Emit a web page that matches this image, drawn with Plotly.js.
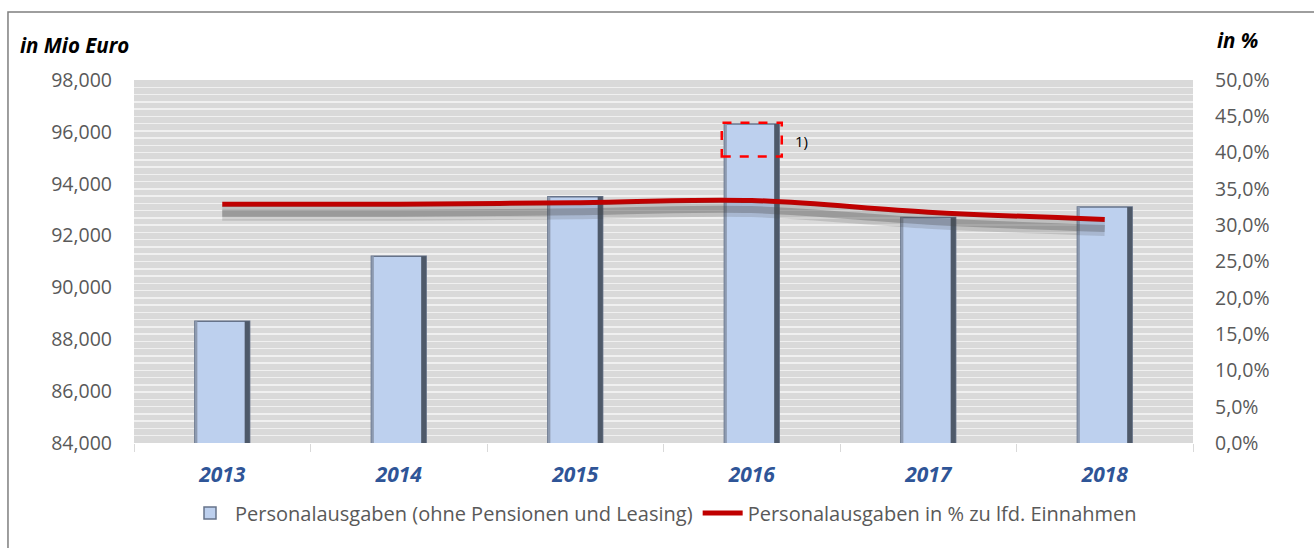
<!DOCTYPE html>
<html>
<head>
<meta charset="utf-8">
<script src="https://cdn.plot.ly/plotly-3.0.1.min.js"></script>
<style>html,body{margin:0;padding:0;background:#fff;}#chart{width:1314px;height:548px;}</style>
</head>
<body>
<div id="chart"></div>
<script>
// ---- data ----
const years = ['2013', '2014', '2015', '2016', '2017', '2018'];
const personalausgaben = [88700, 91200, 93500, 96300, 92700, 93100];      // Mio Euro
const anteilEinnahmen = [32.9, 32.9, 33.1, 33.4, 31.8, 30.8];             // in %
const leftTickVals = [84000, 86000, 88000, 90000, 92000, 94000, 96000, 98000];
const rightTickVals = [0, 5, 10, 15, 20, 25, 30, 35, 40, 45, 50];
const rightTickText = ['0,0%', '5,0%', '10,0%', '15,0%', '20,0%', '25,0%', '30,0%', '35,0%', '40,0%', '45,0%', '50,0%'];
const barName = 'Personalausgaben (ohne Pensionen und Leasing)';
const lineName = 'Personalausgaben in % zu lfd. Einnahmen';

const FONT = 'Open Sans, Noto Sans, sans-serif';
const GREY = '#595959';

const traces = [
  {
    type: 'bar', x: years, y: personalausgaben, name: barName,
    width: 0.31,
    marker: { color: '#bdd0ee', line: { color: '#66738a', width: 1.5 } },
    yaxis: 'y', hoverinfo: 'skip'
  },
  // bevel edges of the bars
  {
    type: 'bar', x: years, y: personalausgaben, width: 0.028, offset: 0.127,
    marker: { color: '#4e5969', line: { width: 0 } },
    yaxis: 'y', showlegend: false, hoverinfo: 'skip'
  },
  {
    type: 'bar', x: years, y: personalausgaben, width: 0.014, offset: -0.155,
    marker: { color: '#8d9ab0', line: { width: 0 } },
    yaxis: 'y', showlegend: false, hoverinfo: 'skip'
  },
  // soft shadow of the line (same data on a shifted axis)
  {
    type: 'scatter', mode: 'lines', x: years, y: anteilEinnahmen, yaxis: 'y3',
    line: { color: 'rgba(70,70,70,0.18)', width: 15, shape: 'spline' },
    showlegend: false, hoverinfo: 'skip'
  },
  {
    type: 'scatter', mode: 'lines', x: years, y: anteilEinnahmen, yaxis: 'y3',
    line: { color: 'rgba(70,70,70,0.3)', width: 7, shape: 'spline' },
    showlegend: false, hoverinfo: 'skip'
  },
  {
    type: 'scatter', mode: 'lines', x: years, y: anteilEinnahmen, name: lineName,
    yaxis: 'y2',
    line: { color: '#c00000', width: 5, shape: 'spline' },
    hoverinfo: 'skip'
  }
];

const layout = {
  width: 1314, height: 548,
  margin: { l: 134, r: 121, t: 80, b: 105 },
  paper_bgcolor: '#ffffff',
  plot_bgcolor: '#d9d9d9',
  font: { family: FONT, color: GREY, size: 18 },
  barmode: 'overlay',
  showlegend: true,
  legend: {
    orientation: 'h', x: 0.5, xanchor: 'center', y: -0.193, yanchor: 'middle',
    font: { family: FONT, size: 20, color: GREY }, itemwidth: 40,
    traceorder: 'normal'
  },
  xaxis: {
    type: 'category', range: [-0.5, 5.5],
    showgrid: false, zeroline: false, showline: false,
    ticks: 'outside', tickson: 'boundaries', ticklen: 8, tickcolor: '#d9d9d9', tickwidth: 1,
    tickfont: { family: FONT, size: 21, color: '#2f5597', weight: 'bold', style: 'italic' },
    ticklabelstandoff: 17
  },
  yaxis: {
    range: [84000, 98000], tickvals: leftTickVals, tickformat: ',d',
    showgrid: false, zeroline: false, showline: false, ticks: '',
    tickfont: { family: FONT, size: 19.5, color: GREY },
    ticklabelstandoff: 21
  },
  yaxis2: {
    overlaying: 'y', side: 'right', range: [0, 50],
    tickvals: rightTickVals, ticktext: rightTickText,
    showgrid: true, gridcolor: '#f0f0f0', gridwidth: 1.5,
    minor: { dtick: 1, showgrid: true, gridcolor: '#f0f0f0', gridwidth: 1.5 },
    zeroline: false, showline: false, ticks: '',
    tickfont: { family: FONT, size: 19.5, color: GREY },
    ticklabelstandoff: 21
  },
  yaxis3: {
    overlaying: 'y', side: 'right', range: [1.25, 51.25], visible: false
  },
  shapes: [
    { type: 'rect', xref: 'paper', yref: 'paper', x0: -0.119, x1: 1.3, y0: -0.6, y1: 1.187,
      line: { color: '#7f7f7f', width: 1.5 }, fillcolor: 'rgba(0,0,0,0)', layer: 'below' },
    { type: 'rect', xref: 'x', yref: 'y', x0: 2.83, x1: 3.17, y0: 95050, y1: 96350,
      line: { color: '#ff0000', width: 2.5, dash: 'dash' }, fillcolor: 'rgba(0,0,0,0)' }
  ],
  annotations: [
    { text: '<b><i>in Mio Euro</i></b>', xref: 'paper', yref: 'paper', x: -0.11, y: 1.097,
      xanchor: 'left', yanchor: 'middle', showarrow: false,
      font: { family: FONT, size: 20.5, color: '#000000' } },
    { text: '<b><i>in %</i></b>', xref: 'paper', yref: 'paper', x: 1.021, y: 1.11,
      xanchor: 'left', yanchor: 'middle', showarrow: false,
      font: { family: FONT, size: 20.5, color: '#000000' } },
    { text: '1)', xref: 'x', yref: 'y', x: 3.28, y: 95650,
      xanchor: 'center', yanchor: 'middle', showarrow: false,
      font: { family: FONT, size: 15, color: '#000000' } }
  ]
};

Plotly.newPlot('chart', traces, layout, { staticPlot: true, displayModeBar: false });
</script>
</body>
</html>
